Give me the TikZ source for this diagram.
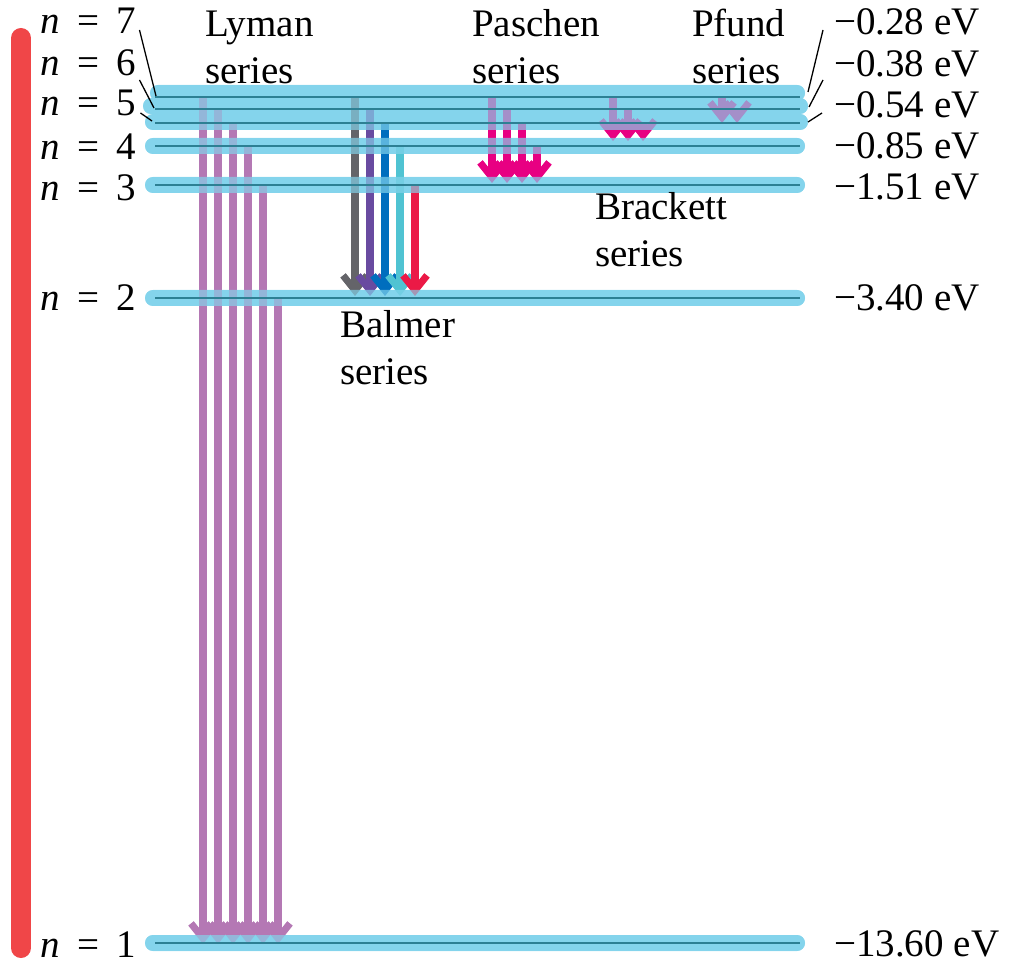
\documentclass[tikz,border=0pt]{standalone}
\usepackage{fontspec}
\setmainfont{Liberation Serif}
\usetikzlibrary{arrows.meta}
\definecolor{levelBlue}{RGB}{132,212,236}
\definecolor{levelLine}{RGB}{45,128,148}
\definecolor{lymanPurple}{RGB}{180,120,180}
\definecolor{seriesPink}{RGB}{232,0,130}
\definecolor{balGray}{RGB}{100,100,105}
\definecolor{balViolet}{RGB}{105,75,160}
\definecolor{balBlue}{RGB}{0,110,190}
\definecolor{balCyan}{RGB}{80,195,210}
\definecolor{balRed}{RGB}{235,25,70}
\definecolor{barRed}{RGB}{240,70,72}

\begin{document}
\begin{tikzpicture}[x=1pt, y=-1pt,
    lbl/.style={font=\fontsize{39}{47}\selectfont, inner sep=0pt, anchor=base west},
    serieslbl/.style={lbl, align=left},
    trans/.style={line width=7.5pt, -{Straight Barb[length=15pt, width=24pt, line width=7pt]}},
    band/.style={levelBlue, line width=16pt, line cap=round},
    leader/.style={line width=1.3pt}]
  \useasboundingbox (0,0) rectangle (1011,965);

  % Energy bar on the left
  \draw[barRed, line width=20pt, line cap=round] (21,38) -- (21,948);

  % Levels, lower layer
  \foreach \y/\l/\r in {93/150/805, 106/143/808, 122/145/808, 146/145/805, 185/145/805, 298/145/805, 943/145/805}
    \draw[band] (\l+8,\y) -- (\r-8,\y);

  % Lyman series
  \foreach \x/\y in {203/97, 218/109, 233/123, 248/145, 263/185, 278/298}
    \draw[trans, lymanPurple] (\x,\y) -- (\x,944);
  % Balmer series
  \foreach \x/\y/\c in {355/97/balGray, 370/109/balViolet, 385/123/balBlue, 400/145/balCyan, 415/185/balRed}
    \draw[trans, \c] (\x,\y) -- (\x,296);
  % Paschen series
  \foreach \x/\y in {492/97, 507/109, 522/123, 537/145}
    \draw[trans, seriesPink] (\x,\y) -- (\x,183);
  % Brackett series
  \foreach \x/\y in {613/97, 628/109, 643/123}
    \draw[trans, seriesPink] (\x,\y) -- (\x,141);
  % Pfund series
  \foreach \x/\y in {722/97, 737/109}
    \draw[trans, seriesPink] (\x,\y) -- (\x,123);

  % Levels, see-through layer over the arrows
  \begin{scope}[transparency group, opacity=0.68]
    \foreach \y/\l/\r in {93/150/805, 106/143/808, 122/145/808, 146/145/805, 185/145/805, 298/145/805, 943/145/805}
      \draw[band] (\l+8,\y) -- (\r-8,\y);
  \end{scope}
  \foreach \y in {97,109,123,146,185,298,943}
    \draw[levelLine, line width=2.5pt] (155,\y) -- (800,\y);

  % Quantum numbers and energies
  \foreach \n/\y in {7/34, 6/76, 5/116, 4/160, 3/201, 2/311, 1/957}
    \node[lbl] (n\n) at (40,\y) {\textit{n}\hspace{0.45em}=\hspace{0.45em}\n};
  \foreach \n/\y/\E in {7/35/0.28, 6/77/0.38, 5/118/0.54, 4/159/0.85, 3/200/1.51, 2/311/3.40, 1/956/13.60}
    \node[lbl] (e\n) at (834,\y) {−\E\ eV};

  % Leaders to the crowded levels
  \draw[leader] ([xshift=3pt, yshift=4pt]n7.base east) -- (156,96);
  \draw[leader] ([xshift=3pt, yshift=-4pt]n6.base east) -- (154,108);
  \draw[leader] ([xshift=4pt, yshift=3pt]n5.base east) -- (152,121);
  \draw[leader] ([xshift=-11pt, yshift=5pt]e7.base west) -- (808,92);
  \draw[leader] ([xshift=-11pt, yshift=-3pt]e6.base west) -- (809,107);
  \draw[leader] ([xshift=-12pt, yshift=5pt]e5.base west) -- (808,122);

  % Series names (anchored on the second line)
  \node[serieslbl] (lyman) at (205,84) {Lyman\\series};
  \node[serieslbl] (balmer) at (340,384) {Balmer\\series};
  \node[serieslbl] (paschen) at (472,84) {Paschen\\series};
  \node[serieslbl] (brackett) at (595,267) {Brackett\\series};
  \node[serieslbl] (pfund) at (692,84) {Pfund\\series};
\end{tikzpicture}
\end{document}
